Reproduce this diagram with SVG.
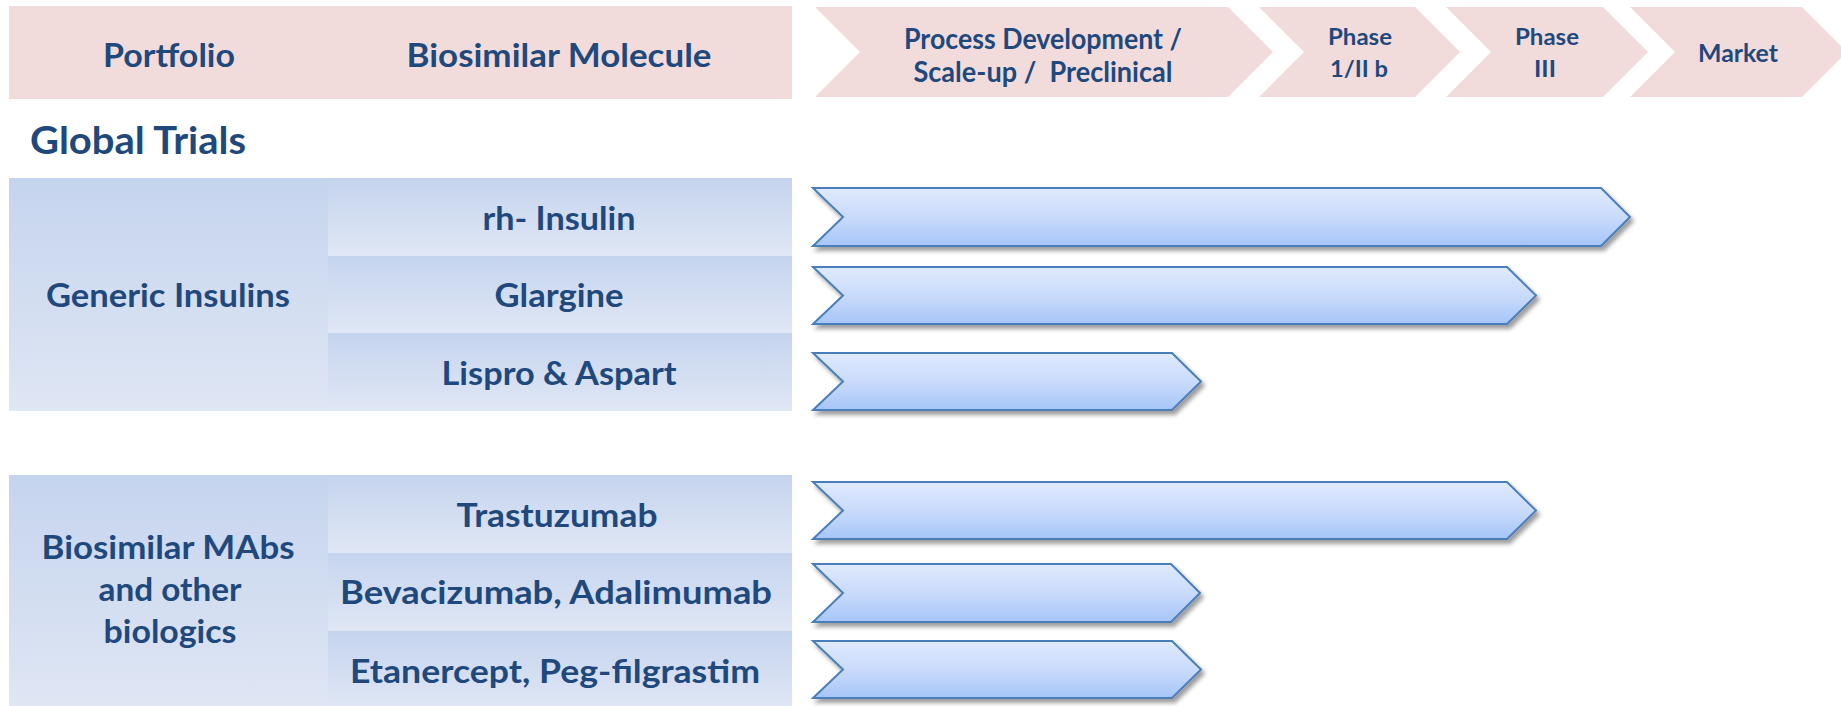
<svg xmlns="http://www.w3.org/2000/svg" width="1841" height="706" viewBox="0 0 1841 706">
  <style>
    .t { font-family: Lato, "Liberation Sans", "DejaVu Sans", sans-serif; font-weight: bold; fill: #1F497D; text-anchor: middle; }
    .hdr { fill: #F2DCDB; }
    .bar { fill: url(#barGrad); stroke: #4A7EBB; stroke-width: 2; stroke-linejoin: miter; filter: url(#shadow); }
    .cell { fill: url(#cellGrad); }
    .pcell { fill: url(#pcellGrad); }
  </style>
  <defs>
    <linearGradient id="barGrad" x1="0" y1="0" x2="0" y2="1">
      <stop offset="0" stop-color="#DFEAFD"/>
      <stop offset="0.5" stop-color="#C9DBFB"/>
      <stop offset="1" stop-color="#A6C5F8"/>
    </linearGradient>
    <linearGradient id="cellGrad" x1="0" y1="0" x2="0" y2="1">
      <stop offset="0" stop-color="#C5D4EE"/>
      <stop offset="1" stop-color="#E0E7F5"/>
    </linearGradient>
    <linearGradient id="pcellGrad" x1="0" y1="0" x2="0" y2="1">
      <stop offset="0" stop-color="#C5D4EE"/>
      <stop offset="1" stop-color="#DFE6F4"/>
    </linearGradient>
    <filter id="shadow" x="-5%" y="-20%" width="110%" height="150%">
      <feDropShadow dx="3" dy="4" stdDeviation="2" flood-color="#000000" flood-opacity="0.38"/>
    </filter>
  </defs>
  <rect width="1841" height="706" fill="#FFFFFF"/>

  <g id="header-table">
    <rect class="hdr" x="9" y="6" width="783" height="93"/>
    <text class="t" x="169" y="67" font-size="32" textLength="132" lengthAdjust="spacingAndGlyphs">Portfolio</text>
    <text class="t" x="559" y="67" font-size="32" textLength="305" lengthAdjust="spacingAndGlyphs">Biosimilar Molecule</text>
  </g>

  <g id="stage-preclinical">
    <polygon class="hdr" points="815,7 1228,7 1273,52 1228,97 815,97 860,52"/>
    <text class="t" x="1043" y="49" font-size="28" textLength="278" lengthAdjust="spacingAndGlyphs">Process Development /</text>
    <text class="t" x="1043" y="82" font-size="28" textLength="259" lengthAdjust="spacingAndGlyphs" xml:space="preserve">Scale-up /  Preclinical</text>
  </g>
  <g id="stage-phase1">
    <polygon class="hdr" points="1259,7 1415,7 1460,52 1415,97 1259,97 1304,52"/>
    <text class="t" x="1360" y="45" font-size="23" textLength="64" lengthAdjust="spacingAndGlyphs">Phase</text>
    <text class="t" x="1359" y="77" font-size="23" textLength="58" lengthAdjust="spacingAndGlyphs">1/II b</text>
  </g>
  <g id="stage-phase3">
    <polygon class="hdr" points="1446,7 1603,7 1648,52 1603,97 1446,97 1491,52"/>
    <text class="t" x="1547" y="45" font-size="23" textLength="64" lengthAdjust="spacingAndGlyphs">Phase</text>
    <text class="t" x="1545" y="77" font-size="23" textLength="22" lengthAdjust="spacingAndGlyphs">III</text>
  </g>
  <g id="stage-market">
    <polygon class="hdr" points="1630,7 1802,7 1847,52 1802,97 1630,97 1675,52"/>
    <text class="t" x="1738" y="62" font-size="24" textLength="80" lengthAdjust="spacingAndGlyphs">Market</text>
  </g>

  <g id="global-trials">
    <text class="t" x="30" y="154" font-size="38" style="text-anchor:start" textLength="216" lengthAdjust="spacingAndGlyphs">Global Trials</text>
  </g>

  <g id="generic-insulins">
    <rect class="pcell" x="9" y="178" width="319" height="233"/>
    <text class="t" x="168" y="307" font-size="32" textLength="244" lengthAdjust="spacingAndGlyphs">Generic Insulins</text>
  </g>
  <g id="rh-insulin">
    <rect class="cell" x="328" y="178" width="464" height="78"/>
    <text class="t" x="559" y="230" font-size="32" textLength="153" lengthAdjust="spacingAndGlyphs">rh- Insulin</text>
  </g>
  <g id="glargine">
    <rect class="cell" x="328" y="256" width="464" height="77"/>
    <text class="t" x="559" y="307" font-size="32" textLength="129" lengthAdjust="spacingAndGlyphs">Glargine</text>
  </g>
  <g id="lispro-aspart">
    <rect class="cell" x="328" y="333" width="464" height="78"/>
    <text class="t" x="559" y="385" font-size="32" textLength="235" lengthAdjust="spacingAndGlyphs">Lispro &amp; Aspart</text>
  </g>

  <g id="biosimilar-mabs">
    <rect class="pcell" x="9" y="475" width="319" height="231"/>
    <text class="t" x="168" y="559" font-size="32" textLength="253" lengthAdjust="spacingAndGlyphs">Biosimilar MAbs</text>
    <text class="t" x="170" y="601" font-size="32" textLength="143" lengthAdjust="spacingAndGlyphs">and other</text>
    <text class="t" x="170" y="643" font-size="32" textLength="133" lengthAdjust="spacingAndGlyphs">biologics</text>
  </g>
  <g id="trastuzumab">
    <rect class="cell" x="328" y="475" width="464" height="78"/>
    <text class="t" x="557" y="527" font-size="32" textLength="201" lengthAdjust="spacingAndGlyphs">Trastuzumab</text>
  </g>
  <g id="bevacizumab-adalimumab">
    <rect class="cell" x="328" y="553" width="464" height="78"/>
    <text class="t" x="556" y="604" font-size="32" textLength="432" lengthAdjust="spacingAndGlyphs">Bevacizumab, Adalimumab</text>
  </g>
  <g id="etanercept-pegfilgrastim">
    <rect class="cell" x="328" y="631" width="464" height="78"/>
    <text class="t" x="555" y="683" font-size="32" textLength="410" lengthAdjust="spacingAndGlyphs">Etanercept, Peg-filgrastim</text>
  </g>

  <g id="progress-bars">
    <polygon id="bar-rh-insulin" class="bar" points="813,188 1601,188 1630,217 1601,246 813,246 843,217"/>
    <polygon id="bar-glargine" class="bar" points="813,267 1507,267 1536,295.5 1507,324 813,324 843,295.5"/>
    <polygon id="bar-lispro" class="bar" points="813,353 1172,353 1201,381.5 1172,410 813,410 843,381.5"/>
    <polygon id="bar-trastuzumab" class="bar" points="813,482 1507,482 1536,510.5 1507,539 813,539 843,510.5"/>
    <polygon id="bar-bevacizumab" class="bar" points="813,564 1171,564 1200,593 1171,622 813,622 843,593"/>
    <polygon id="bar-etanercept" class="bar" points="813,641 1172,641 1201,669.5 1172,698 813,698 843,669.5"/>
  </g>
</svg>
